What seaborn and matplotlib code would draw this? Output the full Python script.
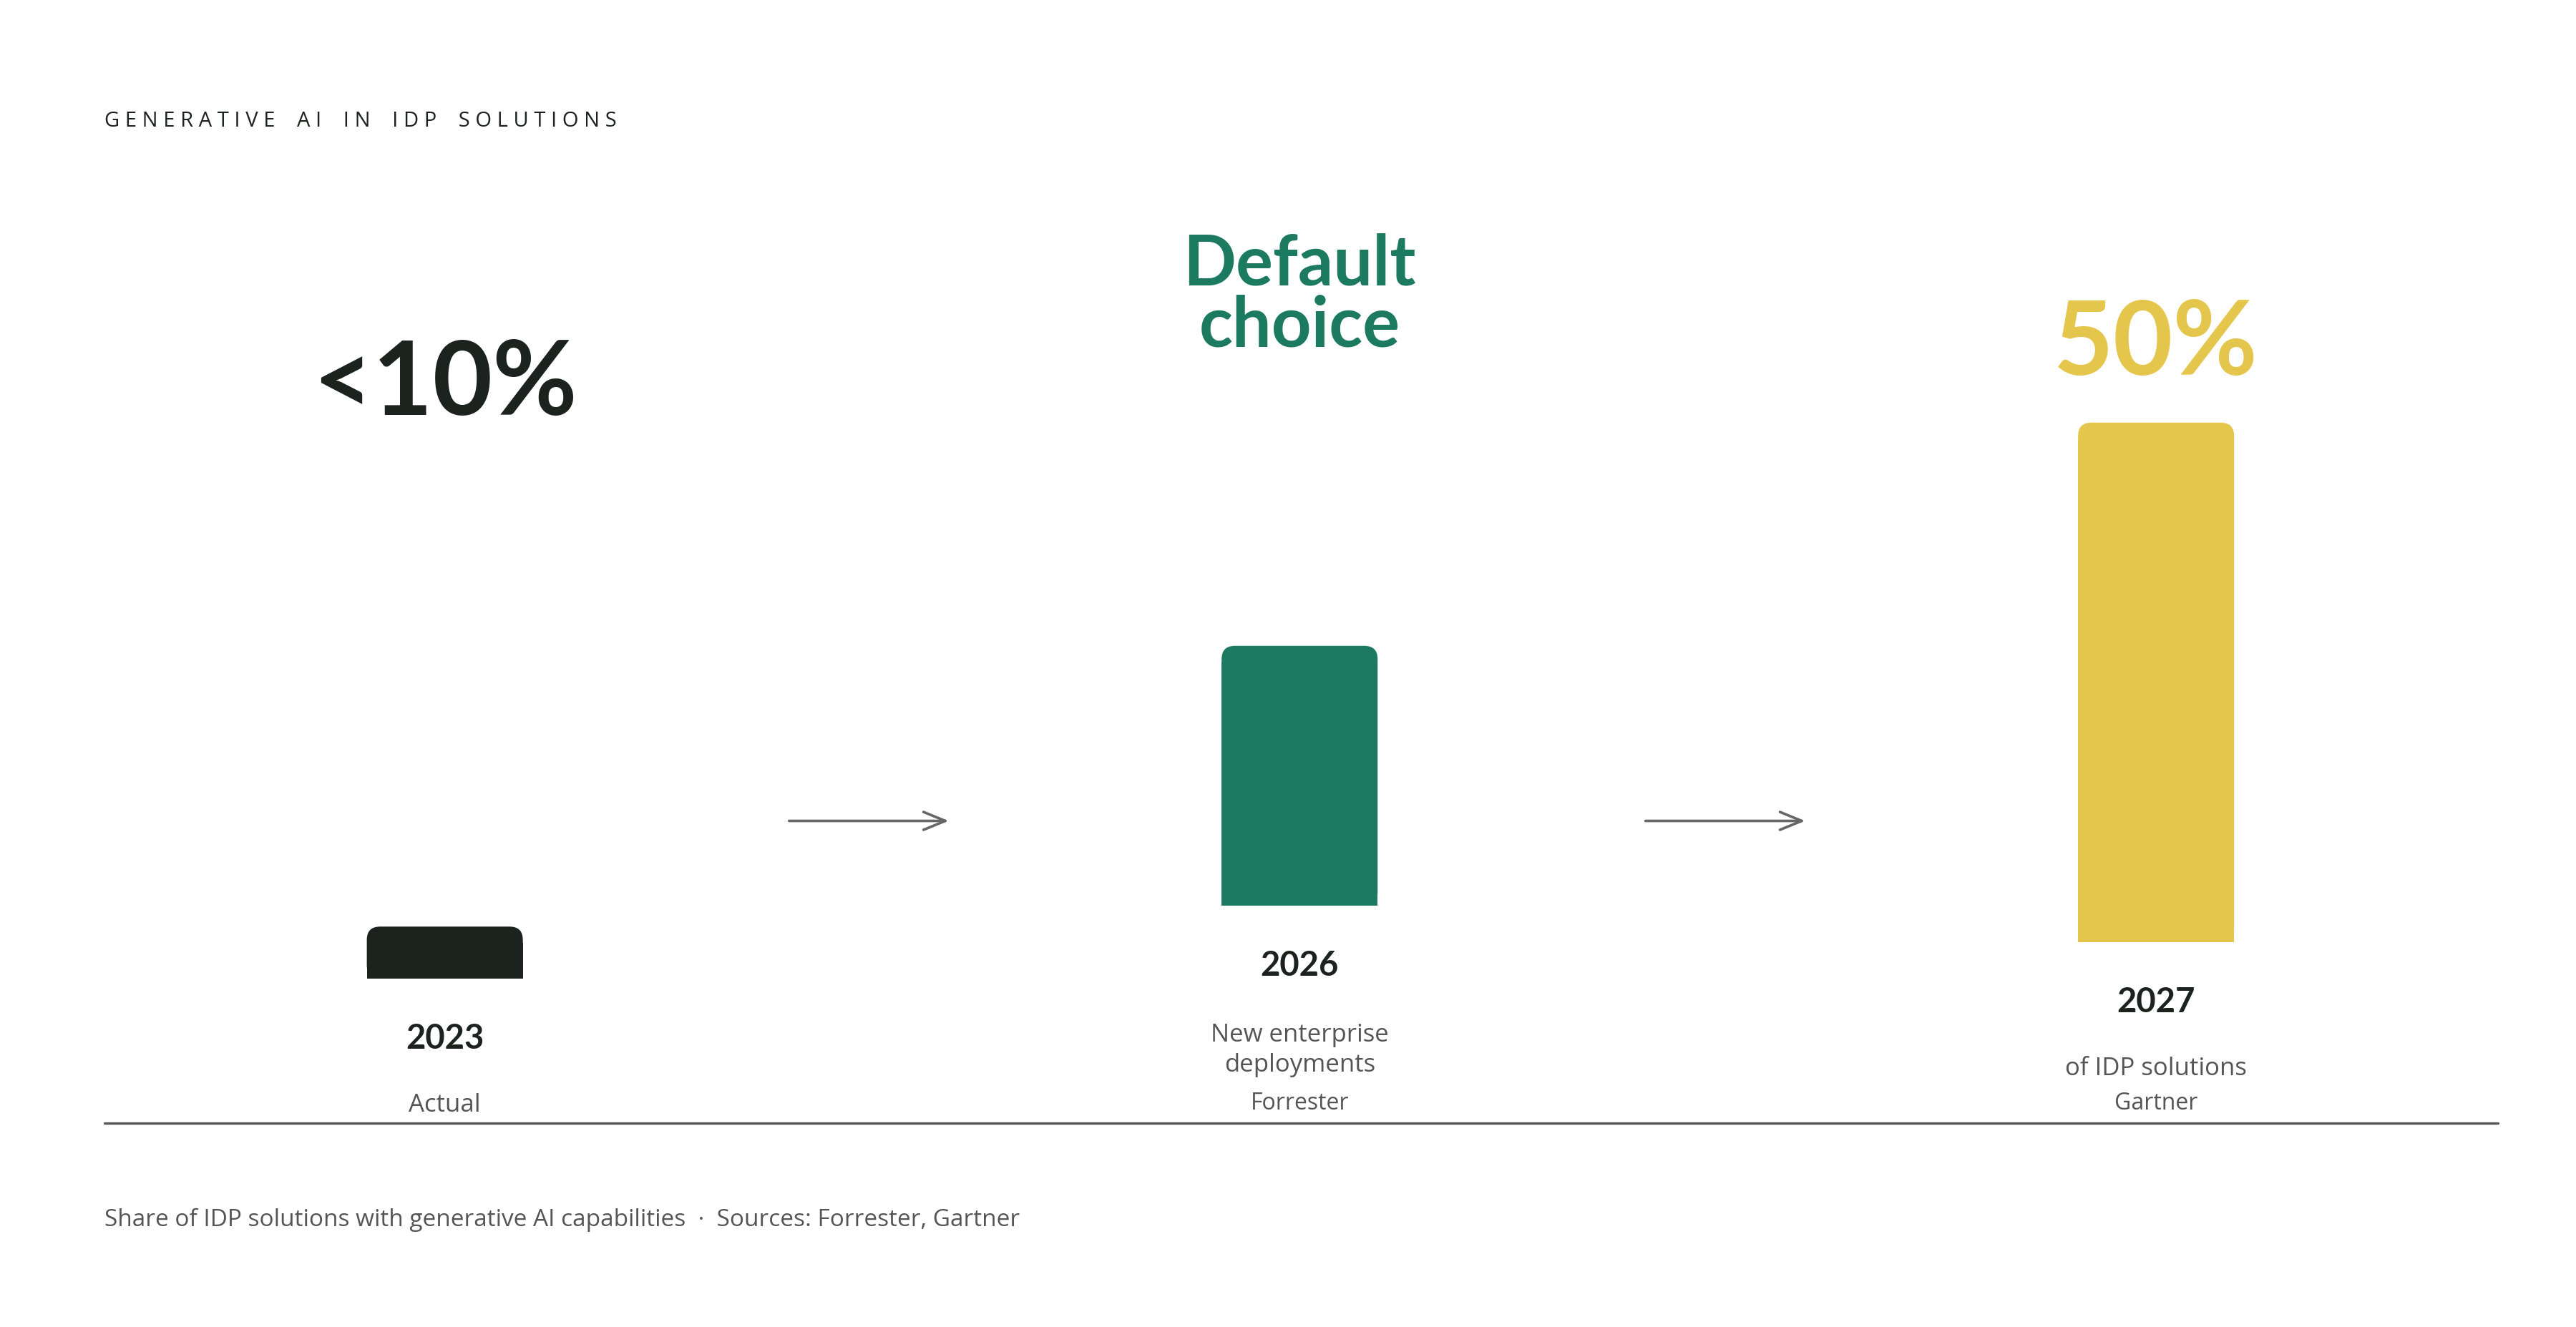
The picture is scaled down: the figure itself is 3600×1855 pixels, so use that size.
import matplotlib.pyplot as plt
import seaborn as sns
from matplotlib.patches import FancyBboxPatch, Rectangle

sns.set_style("white")
plt.rcParams['font.family'] = ['Open Sans', 'DejaVu Sans']

# data
years = ['2023', '2026', '2027']
values = [5, 25, 50]                      # share (%) as drawn
headlines = ['<10%', 'Default\nchoice', '50%']
notes = ['Actual', 'New enterprise\ndeployments', 'of IDP solutions']
sources = ['', 'Forrester', 'Gartner']
colors = ['#1c231f', '#1b7a5f', '#e5c64c']

# layout (display px on a 1552 x 800 canvas)
W, H = 1552, 800
centers = [268, 783, 1299]
bottoms = [590, 546, 568]
px_per_pct = 6.26
bar_w = 94

fig = plt.figure(figsize=(18, 18 * H / W), dpi=200)
ax = fig.add_axes([0, 0, 1, 1])
ax.set_xlim(0, W)
ax.set_ylim(H, 0)
ax.axis('off')

for c, b, v, col, yr, nt, src in zip(centers, bottoms, values, colors, years, notes, sources):
    h = v * px_per_pct
    top = b - h
    ax.add_patch(FancyBboxPatch((c - bar_w / 2, top), bar_w, h, boxstyle="round,pad=0,rounding_size=8",
                                fc=col, ec='none'))
    ax.add_patch(Rectangle((c - bar_w / 2, top + 10), bar_w, h - 10, fc=col, ec='none'))
    ax.text(c, b + 36, yr, ha='center', va='center', fontsize=17, fontweight='bold', color='#1c231f',
            family='Lato')
    if yr == '2023':
        ax.text(c, b + 76, nt, ha='center', va='center', fontsize=12.5, color='#555555')
    elif yr == '2026':
        ax.text(c, b + 87, nt, ha='center', va='center', fontsize=12.5, color='#555555', linespacing=1.3)
        ax.text(c, b + 119, src, ha='center', va='center', fontsize=11.5, color='#555555')
    else:
        ax.text(c, b + 76, nt, ha='center', va='center', fontsize=12.5, color='#555555')
        ax.text(c, b + 97, src, ha='center', va='center', fontsize=11.5, color='#555555')

# headlines
ax.text(centers[0], 232, headlines[0], ha='center', va='center', fontsize=52, fontweight='bold',
        color=colors[0], family='Lato')
ax.text(centers[1], 178, headlines[1], ha='center', va='center', fontsize=35, fontweight='bold',
        color=colors[1], linespacing=0.95, family='Lato')
ax.text(centers[2], 208, headlines[2], ha='center', va='center', fontsize=52, fontweight='bold',
        color=colors[2], family='Lato')

# arrows
for x0 in (473, 989):
    ax.annotate('', xy=(x0 + 101, 495), xytext=(x0, 495),
                arrowprops=dict(arrowstyle='->,head_length=1.1,head_width=0.45', color='#666666', lw=1.3))

# baseline
ax.plot([63, 1505], [677, 677], color='#555555', lw=1.2)

ax.text(63, 73, ' '.join('GENERATIVE AI IN IDP SOLUTIONS').replace('   ', '    '), ha='left', va='center',
        fontsize=10.5, color='#1c231f')
ax.text(63, 735, 'Share of IDP solutions with generative AI capabilities  ·  Sources: Forrester, Gartner',
        ha='left', va='center', fontsize=12, color='#555555')

fig.savefig('out.png', dpi=200, facecolor='white')
